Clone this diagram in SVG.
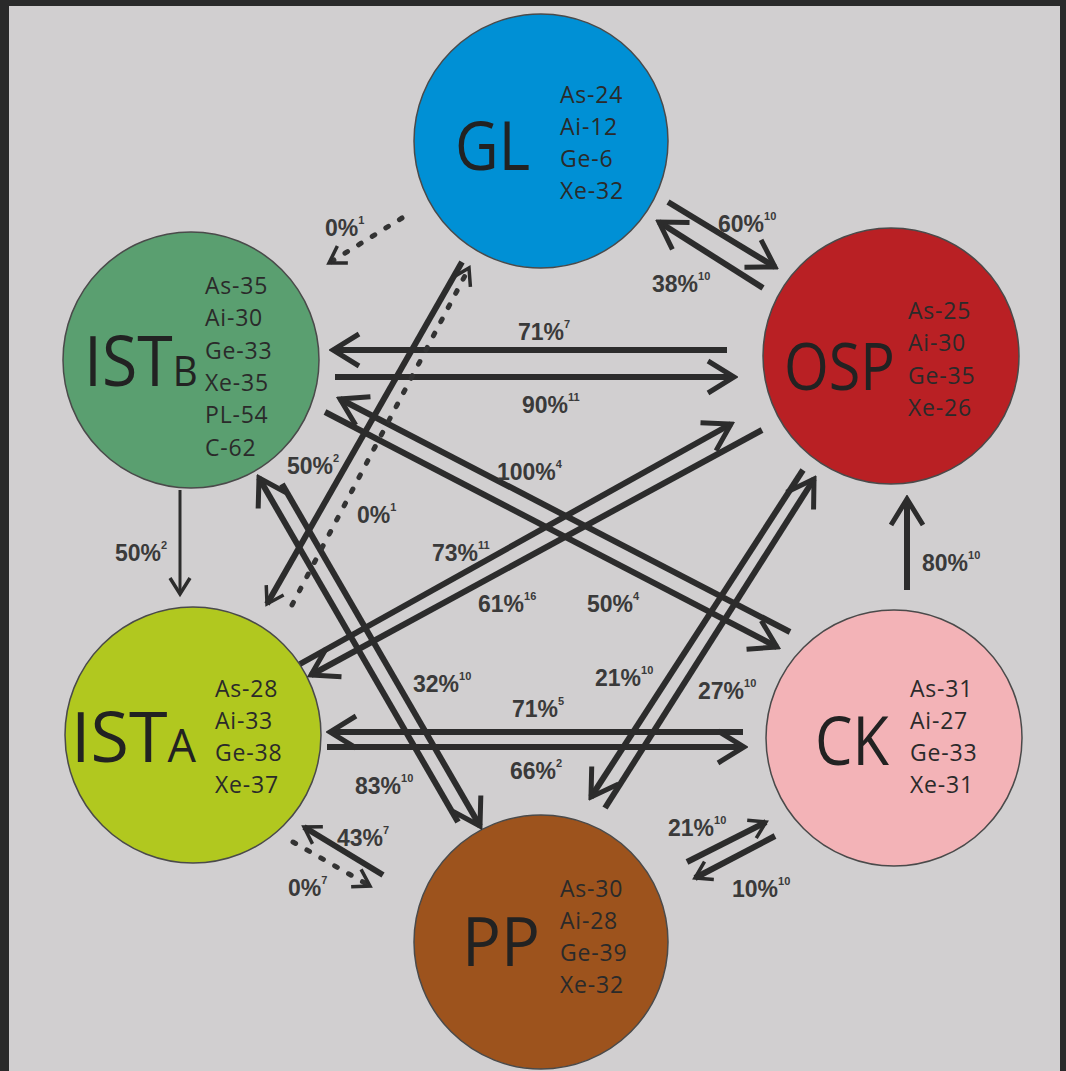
<svg xmlns="http://www.w3.org/2000/svg" width="1066" height="1071" viewBox="0 0 1066 1071">
<style>
.node{stroke:#4a4a4a;stroke-width:1.5}
.big{font-family:"Open Sans","Liberation Sans",sans-serif;fill:#222}
.sm{font-family:"Open Sans","Liberation Sans",sans-serif;font-size:23px;fill:#2a2a2a;letter-spacing:0.8px}
.ln{stroke:#2c2c2c;stroke-width:6;fill:none}
.thin{stroke:#2c2c2c;stroke-width:3;fill:none}
.dot{stroke:#333;stroke-width:5;fill:none;stroke-dasharray:3 13;stroke-linecap:round}
.lbl{font-family:"Liberation Sans",Arial,sans-serif;font-weight:bold;font-size:23px;fill:#3a3a3a}
.sup{font-size:11px}
</style>
<defs>
<marker id="ah" markerUnits="userSpaceOnUse" viewBox="-32 -22 36 44" refX="0" refY="0" markerWidth="36" markerHeight="44" orient="auto">
<path d="M-26,-16 L0,0 L-26,16" fill="none" stroke="#2c2c2c" stroke-width="5"/>
</marker>
<marker id="ahs" markerUnits="userSpaceOnUse" viewBox="-22 -14 26 28" refX="0" refY="0" markerWidth="26" markerHeight="28" orient="auto">
<path d="M-16,-10 L0,0 L-16,10" fill="none" stroke="#2c2c2c" stroke-width="3.5"/>
</marker>
</defs>
<rect x="0" y="0" width="1066" height="1071" fill="#2a2a2a"/>
<rect x="9" y="6" width="1051" height="1065" fill="#d1cfd0"/>

<g id="node-GL">
<circle class="node" cx="541" cy="141" r="127" fill="#0090d5"/>
<text class="big" x="455" y="170" font-size="68" textLength="75" lengthAdjust="spacingAndGlyphs">GL</text>
<text class="sm" x="560" y="103">As-24</text>
<text class="sm" x="560" y="135">Ai-12</text>
<text class="sm" x="560" y="167">Ge-6</text>
<text class="sm" x="560" y="199">Xe-32</text>
</g>
<g id="node-ISTB">
<circle class="node" cx="191" cy="360" r="128" fill="#5a9f70"/>
<text class="big" transform="translate(84,386) scale(0.92,1)" font-size="70">IST<tspan font-size="42">B</tspan></text>
<text class="sm" x="205" y="294">As-35</text>
<text class="sm" x="205" y="326">Ai-30</text>
<text class="sm" x="205" y="359">Ge-33</text>
<text class="sm" x="205" y="391">Xe-35</text>
<text class="sm" x="205" y="423">PL-54</text>
<text class="sm" x="205" y="456">C-62</text>
</g>
<g id="node-OSP">
<circle class="node" cx="891" cy="356" r="128" fill="#b92024"/>
<text class="big" x="784" y="390" font-size="66" textLength="111" lengthAdjust="spacingAndGlyphs">OSP</text>
<text class="sm" x="908" y="319">As-25</text>
<text class="sm" x="908" y="351">Ai-30</text>
<text class="sm" x="908" y="384">Ge-35</text>
<text class="sm" x="908" y="416">Xe-26</text>
</g>
<g id="node-ISTA">
<circle class="node" cx="193" cy="735" r="128" fill="#b1c81f"/>
<text class="big" x="71" y="762" font-size="70">IST<tspan font-size="45">A</tspan></text>
<text class="sm" x="215" y="697">As-28</text>
<text class="sm" x="215" y="729">Ai-33</text>
<text class="sm" x="215" y="761">Ge-38</text>
<text class="sm" x="215" y="793">Xe-37</text>
</g>
<g id="node-CK">
<circle class="node" cx="894" cy="738" r="128" fill="#f3b3b7"/>
<text class="big" x="815" y="765" font-size="68" textLength="74" lengthAdjust="spacingAndGlyphs">CK</text>
<text class="sm" x="910" y="697">As-31</text>
<text class="sm" x="910" y="729">Ai-27</text>
<text class="sm" x="910" y="761">Ge-33</text>
<text class="sm" x="910" y="793">Xe-31</text>
</g>
<g id="node-PP">
<circle class="node" cx="541" cy="942" r="127" fill="#9d531d"/>
<text class="big" x="462" y="966" font-size="68" textLength="78" lengthAdjust="spacingAndGlyphs">PP</text>
<text class="sm" x="560" y="897">As-30</text>
<text class="sm" x="560" y="929">Ai-28</text>
<text class="sm" x="560" y="961">Ge-39</text>
<text class="sm" x="560" y="993">Xe-32</text>
</g>

<g id="connectors">
<line class="ln" x1="668" y1="202" x2="775" y2="267" marker-end="url(#ah)"/>
<line class="ln" x1="763" y1="288" x2="659" y2="222" marker-end="url(#ah)"/>
<line class="ln" x1="727" y1="350" x2="333" y2="350" marker-end="url(#ah)"/>
<line class="ln" x1="335" y1="377" x2="734" y2="377" marker-end="url(#ah)"/>
<line class="ln" x1="790" y1="632" x2="340" y2="399" marker-end="url(#ah)"/>
<line class="ln" x1="325" y1="412" x2="777" y2="647" marker-end="url(#ah)"/>
<line class="ln" x1="300" y1="664" x2="731" y2="424" marker-end="url(#ah)"/>
<line class="ln" x1="762" y1="430" x2="311" y2="675" marker-end="url(#ah)"/>
<line class="ln" x1="803" y1="470" x2="591" y2="797" marker-end="url(#ah)"/>
<line class="ln" x1="605" y1="808" x2="814" y2="479" marker-end="url(#ah)"/>
<line class="ln" x1="458" y1="822" x2="259" y2="478" marker-end="url(#ah)"/>
<line class="ln" x1="282" y1="484" x2="480" y2="826" marker-end="url(#ah)"/>
<line class="ln" x1="743" y1="732" x2="330" y2="732" stroke-width="5" marker-end="url(#ah)"/>
<line class="ln" x1="327" y1="747" x2="744" y2="747" stroke-width="5" marker-end="url(#ah)"/>
<line class="ln" x1="383" y1="875" x2="304" y2="827" stroke-width="5" marker-end="url(#ahs)"/>
<line class="dot" x1="293" y1="842" x2="370" y2="886" marker-end="url(#ahs)"/>
<line class="ln" x1="687" y1="862" x2="766" y2="822" stroke-width="5" marker-end="url(#ahs)"/>
<line class="ln" x1="775" y1="836" x2="695" y2="878" stroke-width="5" marker-end="url(#ahs)"/>
<line class="ln" x1="907" y1="590" x2="907" y2="499" marker-end="url(#ah)"/>
<line class="thin" x1="180" y1="490" x2="180" y2="594" marker-end="url(#ahs)"/>
<line class="dot" x1="402" y1="218" x2="329" y2="263" marker-end="url(#ahs)"/>
<line class="ln" x1="462" y1="262" x2="267" y2="604" stroke-width="5" marker-end="url(#ahs)"/>
<line class="dot" x1="292" y1="605" x2="469" y2="268" marker-end="url(#ahs)"/>
</g>

<g id="labels">
<text class="lbl" x="325" y="236">0%<tspan class="sup" dy="-12">1</tspan></text>
<text class="lbl" x="718" y="232">60%<tspan class="sup" dy="-12">10</tspan></text>
<text class="lbl" x="652" y="292">38%<tspan class="sup" dy="-12">10</tspan></text>
<text class="lbl" x="518" y="340">71%<tspan class="sup" dy="-12">7</tspan></text>
<text class="lbl" x="522" y="413">90%<tspan class="sup" dy="-12">11</tspan></text>
<text class="lbl" x="497" y="480">100%<tspan class="sup" dy="-12">4</tspan></text>
<text class="lbl" x="287" y="474">50%<tspan class="sup" dy="-12">2</tspan></text>
<text class="lbl" x="357" y="523">0%<tspan class="sup" dy="-12">1</tspan></text>
<text class="lbl" x="432" y="561">73%<tspan class="sup" dy="-12">11</tspan></text>
<text class="lbl" x="478" y="612">61%<tspan class="sup" dy="-12">16</tspan></text>
<text class="lbl" x="587" y="612">50%<tspan class="sup" dy="-12">4</tspan></text>
<text class="lbl" x="115" y="561">50%<tspan class="sup" dy="-12">2</tspan></text>
<text class="lbl" x="922" y="571">80%<tspan class="sup" dy="-12">10</tspan></text>
<text class="lbl" x="413" y="692">32%<tspan class="sup" dy="-12">10</tspan></text>
<text class="lbl" x="595" y="686">21%<tspan class="sup" dy="-12">10</tspan></text>
<text class="lbl" x="698" y="699">27%<tspan class="sup" dy="-12">10</tspan></text>
<text class="lbl" x="512" y="717">71%<tspan class="sup" dy="-12">5</tspan></text>
<text class="lbl" x="510" y="779">66%<tspan class="sup" dy="-12">2</tspan></text>
<text class="lbl" x="355" y="794">83%<tspan class="sup" dy="-12">10</tspan></text>
<text class="lbl" x="337" y="846">43%<tspan class="sup" dy="-12">7</tspan></text>
<text class="lbl" x="288" y="896">0%<tspan class="sup" dy="-12">7</tspan></text>
<text class="lbl" x="668" y="836">21%<tspan class="sup" dy="-12">10</tspan></text>
<text class="lbl" x="732" y="897">10%<tspan class="sup" dy="-12">10</tspan></text>
</g>
</svg>
